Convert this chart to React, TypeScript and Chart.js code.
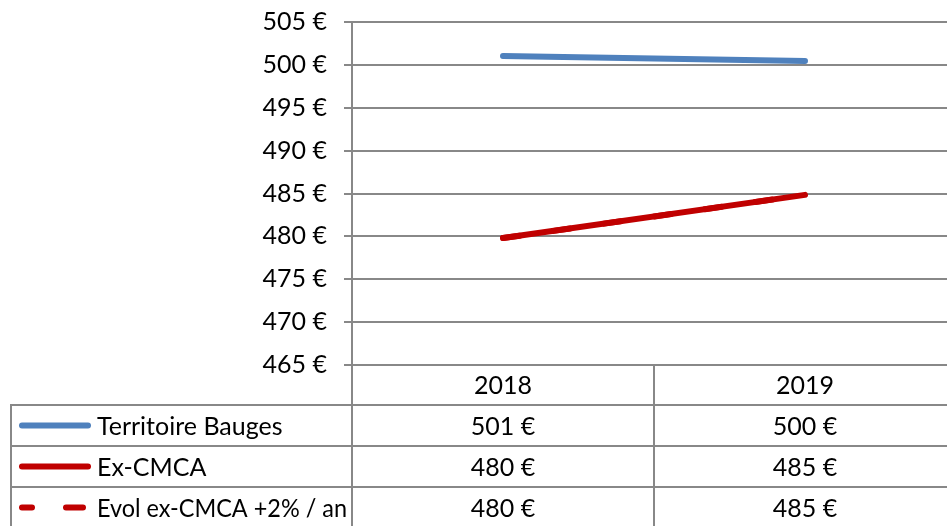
import React, { useEffect, useRef } from "react";
import { Chart, registerables } from "chart.js";

Chart.register(...registerables);

const categories = ["2018", "2019"];
const territoireBauges = [501.04, 500.45];
const exCMCA = [479.8, 484.84];
const evolExCMCA = [479.8, 484.84];
const seriesNames = ["Territoire Bauges", "Ex-CMCA", "Evol ex-CMCA +2% / an"];
const yMin = 465;
const yMax = 505;
const yStep = 5;

const FONT = "Lato, 'Open Sans', sans-serif";
const FONT_SIZE = 25;
const GRID = "#888888";
const BLUE = "#4F81BD";
const RED = "#C00000";
const LINE_W = 6;

const tablePlugin = {
  id: "dataTable",
  afterDraw(chart: any) {
    const ctx = chart.ctx as CanvasRenderingContext2D;
    const area = chart.chartArea;
    const xs = chart.scales.x;
    const H = chart.height;
    const rowH = 41;
    const headerTop = area.bottom;
    const tableTop = headerTop + 40;
    const tableLeft = 11;
    const right = area.right;
    ctx.save();
    ctx.strokeStyle = GRID;
    ctx.lineWidth = 2;
    const catW = (area.right - area.left) / categories.length;
    ctx.beginPath();
    ctx.moveTo(area.left, headerTop);
    ctx.lineTo(area.left, H);
    for (let i = 1; i <= categories.length; i++) {
      const x = Math.round(area.left + catW * i);
      ctx.moveTo(x, headerTop);
      ctx.lineTo(x, H);
    }
    ctx.moveTo(tableLeft, tableTop);
    ctx.lineTo(tableLeft, H);
    for (let r = 0; r < seriesNames.length; r++) {
      const y = tableTop + r * rowH;
      ctx.moveTo(tableLeft - 1, y);
      ctx.lineTo(right, y);
    }
    ctx.stroke();

    ctx.fillStyle = "#000";
    ctx.font = `${FONT_SIZE}px ${FONT}`;
    ctx.textBaseline = "middle";
    ctx.textAlign = "center";
    categories.forEach((c, i) => {
      ctx.fillText(c, xs.getPixelForValue(i), headerTop + 21);
    });
    const series = [territoireBauges, exCMCA, evolExCMCA];
    const colors = [BLUE, RED, RED];
    series.forEach((s, r) => {
      const cy = tableTop + r * rowH + rowH / 2 + 1;
      ctx.save();
      ctx.strokeStyle = colors[r];
      ctx.lineWidth = LINE_W;
      ctx.lineCap = "round";
      if (r === 2) {
        ctx.setLineDash([17, 34]);
        ctx.lineDashOffset = 7;
      }
      ctx.beginPath();
      ctx.moveTo(22, cy - 1);
      ctx.lineTo(88, cy - 1);
      ctx.stroke();
      ctx.restore();
      ctx.textAlign = "left";
      ctx.fillStyle = "#000";
      ctx.fillText(seriesNames[r], 97, cy, area.left - 97 - 5);
      ctx.textAlign = "center";
      s.forEach((v, i) => {
        ctx.fillText(`${Math.round(v)} €`, xs.getPixelForValue(i), cy);
      });
    });
    ctx.restore();
  },
};

export default function App() {
  const ref = useRef<HTMLCanvasElement>(null);
  useEffect(() => {
    if (!ref.current) return;
    const chart = new Chart(ref.current, {
      type: "line",
      data: {
        labels: categories,
        datasets: [
          {
            label: seriesNames[0],
            data: territoireBauges,
            borderColor: BLUE,
            borderWidth: LINE_W,
            borderCapStyle: "round",
            pointRadius: 0,
            tension: 0,
          },
          {
            label: seriesNames[1],
            data: exCMCA,
            borderColor: RED,
            borderWidth: LINE_W,
            borderCapStyle: "round",
            pointRadius: 0,
            tension: 0,
          },
          {
            label: seriesNames[2],
            data: evolExCMCA,
            borderColor: RED,
            borderWidth: LINE_W,
            borderDash: [17, 34],
            borderCapStyle: "round",
            pointRadius: 0,
            tension: 0,
          },
        ],
      },
      options: {
        animation: false,
        responsive: false,
        devicePixelRatio: 1,
        layout: { padding: { top: 22, bottom: 161, left: 0, right: 0 } },
        plugins: { legend: { display: false }, tooltip: { enabled: false } },
        scales: {
          x: { display: false, offset: true },
          y: {
            min: yMin,
            max: yMax,
            afterFit(scale: any) {
              scale.width = 352;
              scale.paddingTop = 0;
              scale.paddingBottom = 0;
            },
            ticks: {
              stepSize: yStep,
              padding: 17,
              color: "#000",
              font: { family: FONT, size: FONT_SIZE },
              callback: (v: any) => `${v} €`,
            },
            grid: { color: GRID, lineWidth: 2, tickLength: 8 },
            border: { color: GRID, width: 2 },
          },
        },
      },
      plugins: [tablePlugin],
    });
    return () => chart.destroy();
  }, []);
  return (
    <div
      style={{
        position: "fixed",
        left: 0,
        top: 0,
        width: 947,
        height: 526,
        overflow: "hidden",
        background: "#fff",
      }}
    >
      <canvas ref={ref} width={956} height={526} style={{ display: "block" }} />
    </div>
  );
}
